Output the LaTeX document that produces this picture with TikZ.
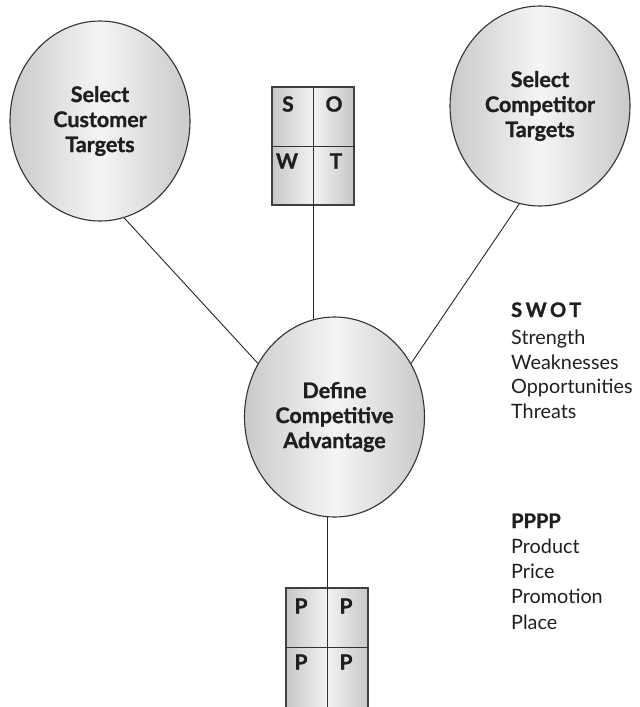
\documentclass[tikz,border=0pt]{standalone}
\usepackage{fontspec}
\setmainfont{Lato}
\newfontfamily\heavyfont[FakeBold=1.2]{Lato Bold}
\usetikzlibrary{shapes.geometric}
\begin{document}
\begin{tikzpicture}[x=1pt,y=-1pt,
  bubble/.style={ellipse, draw=black!80, line width=1.1pt, minimum width=180pt, minimum height=200pt, inner sep=0pt,
    left color=black!21, right color=black!21, middle color=black!4, align=center,
    font=\fontsize{21.5}{25}\heavyfont, text=black!88},
  gridbox/.style={rectangle, draw=black!75, line width=1.1pt, minimum width=82pt, inner sep=0pt,
    left color=black!22, right color=black!22, middle color=black!5},
  divider/.style={draw=black!80, line width=1pt},
  letter/.style={font=\fontsize{21}{21}\heavyfont, text=black!88, inner sep=0pt},
  link/.style={draw=black!85, line width=0.9pt},
  sidehead/.style={anchor=base west, inner sep=0pt, font=\fontsize{20}{25}\heavyfont, text=black!88},
  sidetext/.style={anchor=base west, inner sep=0pt, font=\fontsize{19.8}{25}\selectfont, text=black!88}
]
\useasboundingbox (0,0) rectangle (640,707);
\clip (0,0) rectangle (640,707);

% ellipses
\node[bubble] (L) at (100,121) {Select\\Customer\\Targets};
\node[bubble] (R) at (540,106) {Select\\Competitor\\Targets};
\node[bubble] (C) at (334.5,417) {Define\\Competitive\\Advantage};

% SWOT box
\node[gridbox, minimum height=118pt] (S) at (313,146) {};
\draw[divider] (S.north) -- (S.south);
\draw[divider] (S.west) -- (S.east);
\node[letter] (s1) at (288,104) {S};
\node[letter] (s2) at (334,104) {O};
\node[letter] (s3) at (287,161) {W};
\node[letter] (s4) at (336,161) {T};

% PPPP box (cut by the lower edge)
\node[gridbox, minimum height=124pt] (P) at (327,650) {};
\coordinate (pmidL) at (286,647);
\coordinate (pmidR) at (368,647);
\draw[divider] (P.north) -- (P.south);
\draw[divider] (pmidL) -- (pmidR);
\node[letter] (p1) at (301,606) {P};
\node[letter] (p2) at (346,606) {P};
\node[letter] (p3) at (301,662) {P};
\node[letter] (p4) at (346,662) {P};

% connectors
\draw[link] (L.-76.5) -- (C.145.8);
\draw[link] (R.-102.9) -- (C.35.4);
\draw[link] (S.south) -- (S.south |- C.102.5);
\draw[link] (P.north) -- (P.north |- C.-94.2);

% side texts
\node[sidehead] (h1) at (511,317) {\addfontfeature{LetterSpace=18}SWOT};
\node[sidetext] (t1) at (511,344) {Strength};
\node[sidetext] (t2) at (511,369) {Weaknesses};
\node[sidetext] (t3) at (511,393) {Opportunities};
\node[sidetext] (t4) at (511,418) {Threats};

\node[sidehead] (h2) at (511,528) {PPPP};
\node[sidetext] (u1) at (511,553) {Product};
\node[sidetext] (u2) at (511,578) {Price};
\node[sidetext] (u3) at (511,603) {Promotion};
\node[sidetext] (u4) at (511,629) {Place};
\end{tikzpicture}
\end{document}
